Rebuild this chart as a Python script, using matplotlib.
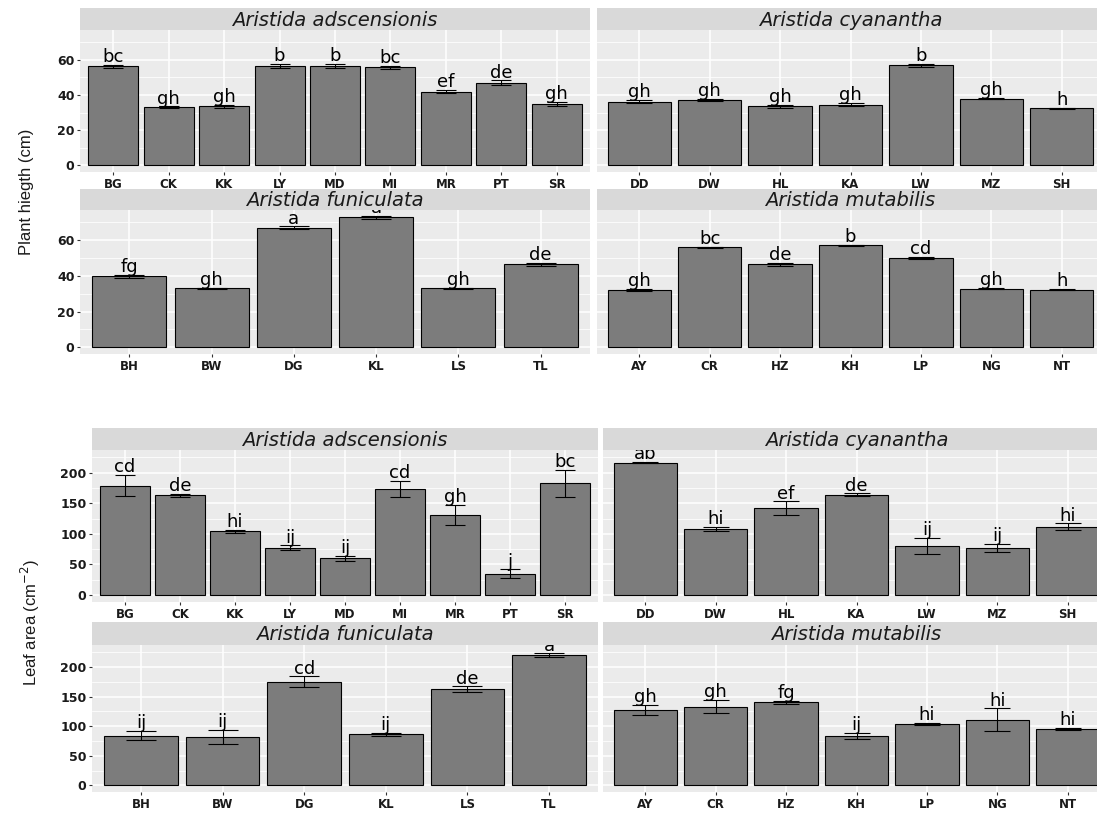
import matplotlib
matplotlib.use('Agg')
import matplotlib.pyplot as plt
from matplotlib.transforms import offset_copy
import numpy as np

W, H = 1097, 813
fig = plt.figure(figsize=(W / 100, H / 100), dpi=100)

# ---------------- data ----------------
ads_sites = ['BG', 'CK', 'KK', 'LY', 'MD', 'MI', 'MR', 'PT', 'SR']
cya_sites = ['DD', 'DW', 'HL', 'KA', 'LW', 'MZ', 'SH']
fun_sites = ['BH', 'BW', 'DG', 'KL', 'LS', 'TL']
mut_sites = ['AY', 'CR', 'HZ', 'KH', 'LP', 'NG', 'NT']

# Plant height (cm)
ph_ads = [56.3, 33.0, 33.5, 56.5, 56.5, 55.8, 42.0, 47.0, 35.0]
ph_ads_se = [1.0, 0.5, 0.8, 1.0, 1.2, 0.8, 1.0, 1.3, 1.0]
ph_ads_let = ['bc', 'gh', 'gh', 'b', 'b', 'bc', 'ef', 'de', 'gh']

ph_cya = [36.3, 37.2, 33.5, 34.5, 57.0, 38.0, 32.4]
ph_cya_se = [0.8, 0.6, 0.8, 0.9, 0.8, 0.4, 0.4]
ph_cya_let = ['gh', 'gh', 'gh', 'gh', 'b', 'gh', 'h']

ph_fun = [39.7, 33.0, 67.0, 72.8, 33.0, 46.5]
ph_fun_se = [0.8, 0.5, 0.8, 1.0, 0.4, 0.8]
ph_fun_let = ['fg', 'gh', 'a', 'a', 'gh', 'de']

ph_mut = [32.3, 56.0, 46.5, 57.2, 50.2, 32.9, 32.3]
ph_mut_se = [0.5, 0.5, 0.8, 0.4, 0.5, 0.4, 0.4]
ph_mut_let = ['gh', 'bc', 'de', 'b', 'cd', 'gh', 'h']

# Leaf area (cm^-2)
la_ads = [179, 163, 104, 77, 60, 173, 131, 35, 183]
la_ads_se = [17, 2, 2, 4, 4, 13, 16, 7, 22]
la_ads_let = ['cd', 'de', 'hi', 'ij', 'ij', 'cd', 'gh', 'j', 'bc']

la_cya = [216, 108, 142, 164, 80, 77, 112]
la_cya_se = [1, 3, 11, 2, 13, 7, 5]
la_cya_let = ['ab', 'hi', 'ef', 'de', 'ij', 'ij', 'hi']

la_fun = [84, 81, 175, 86, 162, 220]
la_fun_se = [8, 12, 9, 2, 5, 3]
la_fun_let = ['ij', 'ij', 'cd', 'ij', 'de', 'a']

la_mut = [127, 133, 140, 83, 104, 111, 95]
la_mut_se = [9, 11, 3, 5, 2, 19, 2]
la_mut_let = ['gh', 'gh', 'fg', 'ij', 'hi', 'hi', 'hi']

# ---------------- helpers ----------------
def rect(x0, y0, x1, y1):
    return [x0 / W, 1 - y1 / H, (x1 - x0) / W, (y1 - y0) / H]

PANEL_BG = '#EBEBEB'
STRIP_BG = '#D9D9D9'
BAR = '#7C7C7C'


def strip(x0, y0, x1, y1, title):
    ax = fig.add_axes(rect(x0, y0, x1, y1))
    ax.set_facecolor(STRIP_BG)
    ax.set_xticks([]); ax.set_yticks([])
    for s in ax.spines.values():
        s.set_visible(False)
    ax.text(0.5, 0.45, title, transform=ax.transAxes, ha='center', va='center',
            fontsize=14, style='italic', color='#1A1A1A', family='DejaVu Sans')


def panel(box, sites, vals, errs, lets, ylim, yticks, yminor, show_y):
    x0, y0, x1, y1 = box
    ax = fig.add_axes(rect(x0, y0, x1, y1))
    ax.set_facecolor(PANEL_BG)
    n = len(sites)
    x = np.arange(n)
    ax.set_xlim(-0.6, n - 0.4)
    ax.set_ylim(*ylim)
    ax.set_axisbelow(True)
    ax.set_xticks(x)
    ax.set_xticklabels(sites)
    ax.set_yticks(yticks)
    ax.set_yticks(yminor, minor=True)
    ax.grid(which='major', color='white', lw=1.1)
    ax.grid(which='minor', axis='y', color='white', lw=0.55)
    ax.tick_params(which='minor', length=0)
    ax.tick_params(which='major', length=2.5, color='#333333', labelsize=8.5,
                   labelcolor='#1A1A1A', pad=1.5)
    ax.tick_params(axis='y', labelsize=9)
    for lab in ax.get_xticklabels() + ax.get_yticklabels():
        lab.set_fontweight('bold')
    if not show_y:
        ax.tick_params(axis='y', left=False, labelleft=False)
    for s in ax.spines.values():
        s.set_visible(False)
    ax.bar(x, vals, width=0.9, color=BAR, edgecolor='black', lw=0.8, zorder=2)
    # cap width ~0.36 data units
    unit_px = (x1 - x0) / (n + 0.2)
    cap_pt = 0.18 * unit_px * 72 / 100
    ax.errorbar(x, vals, yerr=errs, fmt='none', ecolor='black', elinewidth=0.8,
                capsize=cap_pt, capthick=0.8, zorder=3)
    tr = offset_copy(ax.transData, fig=fig, x=0, y=2, units='points')
    for xi, v, e, l in zip(x, vals, errs, lets):
        ax.text(xi, v + e, l, transform=tr, ha='center', va='baseline',
                fontsize=13, color='black', clip_on=True, zorder=4)
    return ax


# ---------------- Plant height ----------------
ph_lim = (-3.8, 77)
ph_ticks = [0, 20, 40, 60]
ph_minor = [10, 30, 50, 70]

strip(80, 8, 590, 30, 'Aristida adscensionis')
panel((80, 30, 590, 172), ads_sites, ph_ads, ph_ads_se, ph_ads_let,
      ph_lim, ph_ticks, ph_minor, True)
strip(597, 8, 1104, 30, 'Aristida cyanantha')
panel((597, 30, 1104, 172), cya_sites, ph_cya, ph_cya_se, ph_cya_let,
      ph_lim, ph_ticks, ph_minor, False)

strip(80, 189, 590, 210, 'Aristida funiculata')
panel((80, 210, 590, 354), fun_sites, ph_fun, ph_fun_se, ph_fun_let,
      ph_lim, ph_ticks, ph_minor, True)
strip(597, 189, 1104, 210, 'Aristida mutabilis')
panel((597, 210, 1104, 354), mut_sites, ph_mut, ph_mut_se, ph_mut_let,
      ph_lim, ph_ticks, ph_minor, False)

fig.text(27 / W, 1 - 192 / H, 'Plant hiegth (cm)', rotation=90, ha='center',
         va='center', fontsize=12, family=['Liberation Sans Narrow', 'Liberation Sans'],
         color='#1A1A1A')

# ---------------- Leaf area ----------------
la_lim = (-11.3, 237)
la_ticks = [0, 50, 100, 150, 200]
la_minor = [25, 75, 125, 175, 225]

strip(92, 428, 598, 450, 'Aristida adscensionis')
panel((92, 450, 598, 602), ads_sites, la_ads, la_ads_se, la_ads_let,
      la_lim, la_ticks, la_minor, True)
strip(603, 428, 1110, 450, 'Aristida cyanantha')
panel((603, 450, 1110, 602), cya_sites, la_cya, la_cya_se, la_cya_let,
      la_lim, la_ticks, la_minor, False)

strip(92, 622, 598, 645, 'Aristida funiculata')
panel((92, 645, 598, 792), fun_sites, la_fun, la_fun_se, la_fun_let,
      la_lim, la_ticks, la_minor, True)
strip(603, 622, 1110, 645, 'Aristida mutabilis')
panel((603, 645, 1110, 792), mut_sites, la_mut, la_mut_se, la_mut_let,
      la_lim, la_ticks, la_minor, False)

fig.text(30 / W, 1 - 623 / H, 'Leaf area (cm$^{-2}$)', rotation=90, ha='center',
         va='center', fontsize=12, family=['Liberation Sans Narrow', 'Liberation Sans'],
         color='#1A1A1A')

fig.savefig('out.png', dpi=100, facecolor='white')
